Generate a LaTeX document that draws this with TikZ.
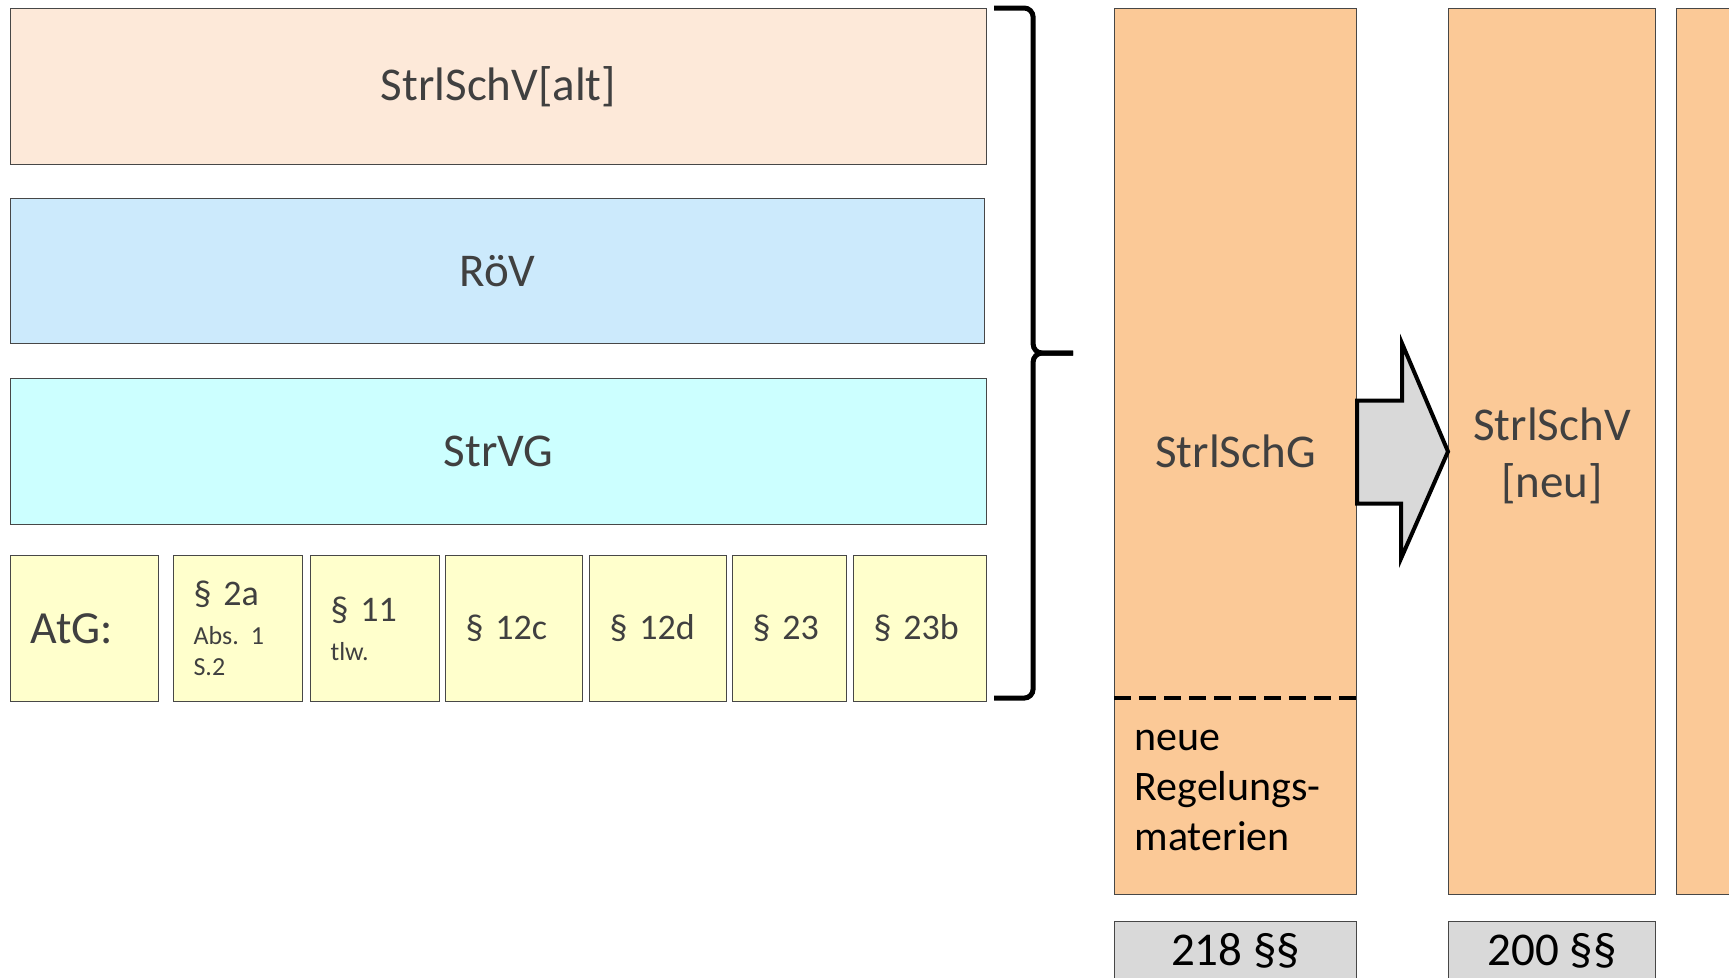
\documentclass[tikz,border=0pt]{standalone}
\usepackage{fontspec}
\setmainfont{Carlito}
\usepackage{tikz}
\usetikzlibrary{calc}
\frenchspacing
\definecolor{altfill}{HTML}{FDE9D9}
\definecolor{roevfill}{HTML}{CCEAFC}
\definecolor{strvgfill}{HTML}{CCFFFF}
\definecolor{atgfill}{HTML}{FFFFCC}
\definecolor{colfill}{HTML}{FBC997}
\definecolor{sumfill}{HTML}{D9D9D9}
\definecolor{txtgray}{HTML}{404040}
\definecolor{boxline}{HTML}{474747}
\newcommand{\bigfont}{\fontsize{47}{57}\selectfont}
\newcommand{\subline}[1]{{\fontsize{26}{31}\selectfont\mbox{#1}}}
\tikzset{
  box/.style      = {draw=boxline,line width=1.1pt,inner sep=0pt,anchor=north west,text=txtgray},
  layer/.style    = {box,minimum height=#1,font=\bigfont},
  para/.style     = {box,fill=atgfill,minimum height=146pt,text width=#1,inner xsep=20pt,
                     align=left,font=\fontsize{36}{39}\selectfont},
  column/.style   = {box,fill=colfill,minimum height=886pt,minimum width=#1,font=\bigfont,align=center},
  sumbox/.style   = {box,fill=sumfill,minimum height=58pt,minimum width=#1,font=\bigfont,text=black},
  bracestyle/.style = {line width=5pt,rounded corners=9pt},
  dashline/.style = {line width=4pt,dash pattern=on 17pt off 8pt},
  bigarrow/.style = {fill=sumfill,draw=black,line width=4pt,line join=miter}
}

\begin{document}
\begin{tikzpicture}[x=1pt,y=-1pt]
  \useasboundingbox (0,0) rectangle (1729,977);
  \clip (0,0) rectangle (1729,977);
  % old regulations
  \node[layer=156pt,fill=altfill,minimum width=976pt]   (alt)   at (10,8)   {StrlSchV[alt]};
  \node[layer=145pt,fill=roevfill,minimum width=974pt]  (roev)  at (10,198) {RöV};
  \node[layer=146pt,fill=strvgfill,minimum width=976pt] (strvg) at (10,378) {StrVG};
  \node[para=108pt,font=\fontsize{46}{50}\selectfont] (atg)  at (10,555)  {AtG:};
  \node[para=89pt]  (p2a)  at (173,555) {\mbox{§ 2a}\\\subline{Abs. 1}\\[-8pt]\subline{S.2}};
  \node[para=89pt]  (p11)  at (310,555) {\mbox{§ 11}\\\subline{tlw.}};
  \node[para=97pt]  (p12c) at (445,555) {\mbox{§ 12c}};
  \node[para=97pt]  (p12d) at (589,555) {\mbox{§ 12d}};
  \node[para=74pt]  (p23)  at (732,555) {\mbox{§ 23}};
  \node[para=93pt]  (p23b) at (853,555) {\mbox{§ 23b}};
  % curly bracket
  \coordinate (bt) at ($(alt.north east)+(7,0)$);
  \coordinate (bb) at ($(p23b.south east)+(7,-4)$);
  \coordinate (tip) at ($(bt)!0.5!(bb)+(79,0)$);
  \draw[bracestyle] (bt) -- ++(39,0) |- (tip);
  \draw[bracestyle] (bb) -- ++(39,0) |- (tip);
  % new regulations
  \node[column=242pt] (g)     at (1114,8) {StrlSchG};
  \node[column=207pt] (neu)   at (1448,8) {};
  \node[column=207pt] (third) at (1676,8) {};
  \node[font=\bigfont,text=txtgray,align=center] (neulabel) at ($(neu.center)+(0,4)$) {StrlSchV\\{[neu]}};
  \coordinate (dl) at (1114,698);
  \coordinate (dr) at (1356,698);
  \draw[dashline] (dl) -- (dr);
  \node[anchor=west,align=left,font=\fontsize{42}{50}\selectfont] (neue) at (1131,790)
    {neue\\Regelungs-\\materien};
  \draw[bigarrow] ($(g.east)+(0,-51)$) -- ++(45,0) -- ++(0,-57) -- (neu.west)
    -- ++(-47,107) -- ++(0,-55) -- ($(g.east)+(0,52)$) -- cycle;
  \node[sumbox=242pt] (n218) at (1114,921) {218 §§};
  \node[sumbox=207pt] (n200) at (1448,921) {200 §§};
\end{tikzpicture}
\end{document}
